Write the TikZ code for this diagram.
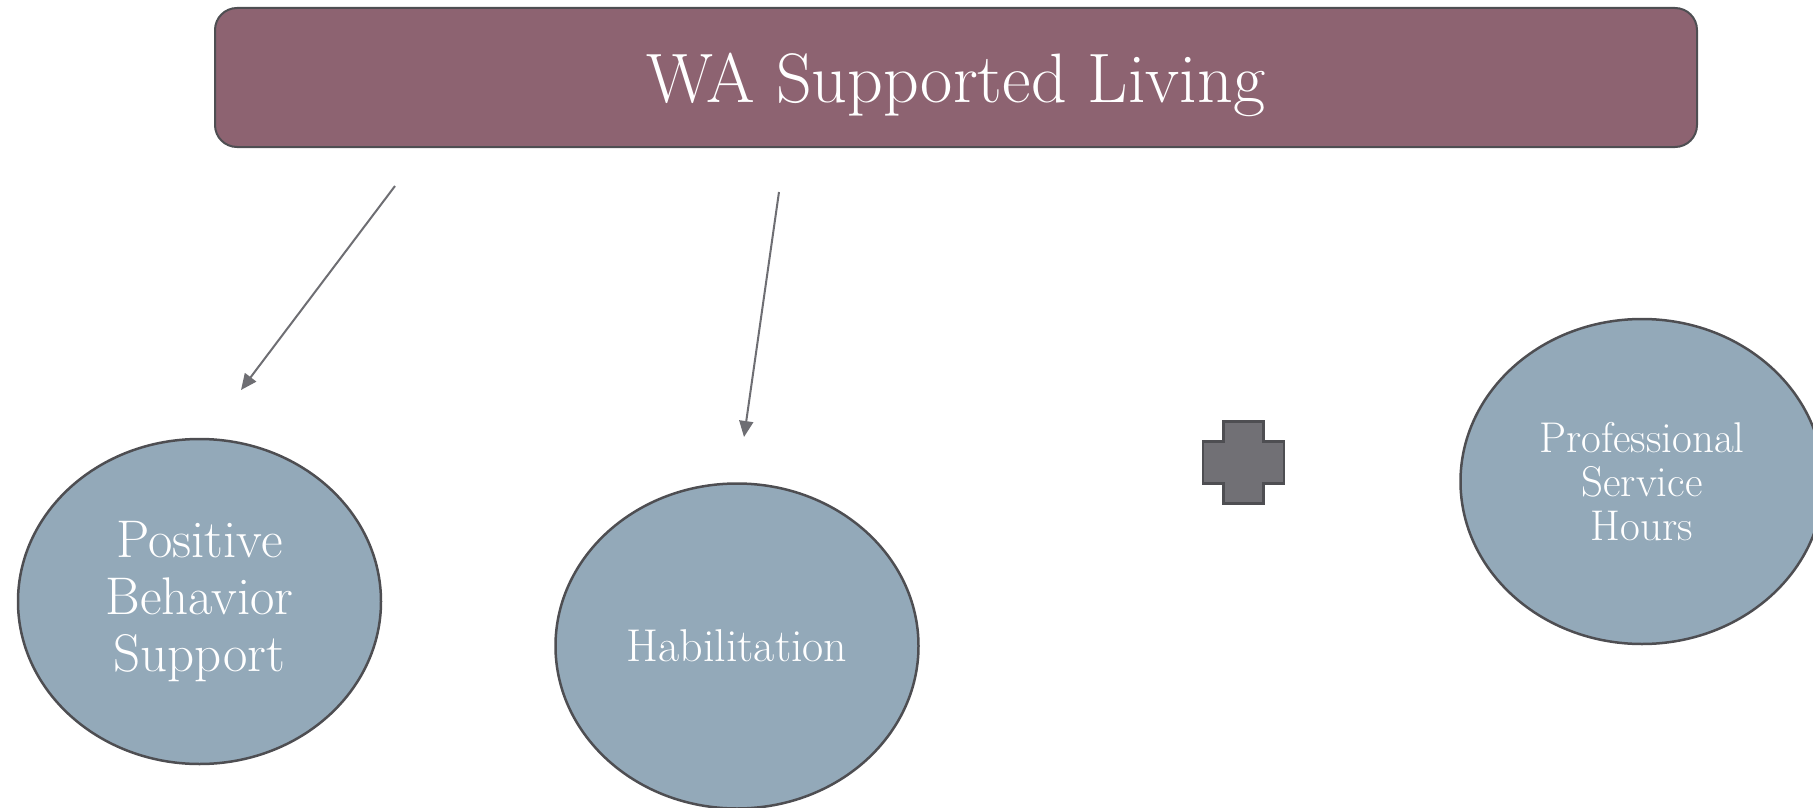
\documentclass[tikz,border=0pt]{standalone}
\usepackage{fontspec}
\usepackage{xcolor}
\usetikzlibrary{shapes.geometric,arrows.meta,positioning}
\definecolor{titlefill}{HTML}{8D6371}
\definecolor{bubblefill}{HTML}{93A9B9}
\definecolor{edgegray}{HTML}{4E4E52}
\definecolor{arrowgray}{HTML}{6E6E73}
\definecolor{plusfill}{HTML}{717075}

\begin{document}
\begin{tikzpicture}[x=1pt, y=-1pt,
   titlebox/.style={draw=edgegray, line width=2pt, fill=titlefill, rounded corners=22pt,
      minimum width=1482pt, minimum height=139pt, text=white, text depth=0pt,
      font=\fontsize{70}{80}\selectfont},
   bubble/.style={ellipse, draw=edgegray, line width=2.5pt, fill=bubblefill,
      minimum width=363pt, minimum height=325pt, inner sep=0pt, text=white, align=center},
   link/.style={draw=arrowgray, line width=2pt, -{Triangle[length=16pt,width=14pt]}},
   plussign/.style={draw=edgegray, line width=2.5pt, fill=plusfill}]
   \useasboundingbox (0,0) rectangle (1813,808);

   \node[titlebox] (wasl) at (956,77.5) {WA Supported Living};

   \node[bubble, font=\fontsize{53}{57}\selectfont] (pbs) at (199.5,601.5) {Positive\\Behavior\\Support};
   \node[bubble, font=\fontsize{46}{48}\selectfont] (hab) at (737,646) {Habilitation};
   \node[bubble, font=\fontsize{43}{44}\selectfont] (psh) at (1642,481.5) {Professional\\Service\\Hours};

   \coordinate (pbsfrom) at (395,186);
   \coordinate (pbsto) at (241,390);
   \coordinate (habfrom) at (779,192);
   \coordinate (habto) at (744,437);
   \draw[link] (pbsfrom) -- (pbsto);
   \draw[link] (habfrom) -- (habto);

   \coordinate (plus) at (1243.5,462.5);
   \draw[plussign, shift={(plus)}] (-20,-41) -- (20,-41) -- (20,-21) -- (40.5,-21) -- (40.5,21)
      -- (20,21) -- (20,41) -- (-20,41) -- (-20,21) -- (-40.5,21) -- (-40.5,-21) -- (-20,-21) -- cycle;
\end{tikzpicture}
\end{document}
